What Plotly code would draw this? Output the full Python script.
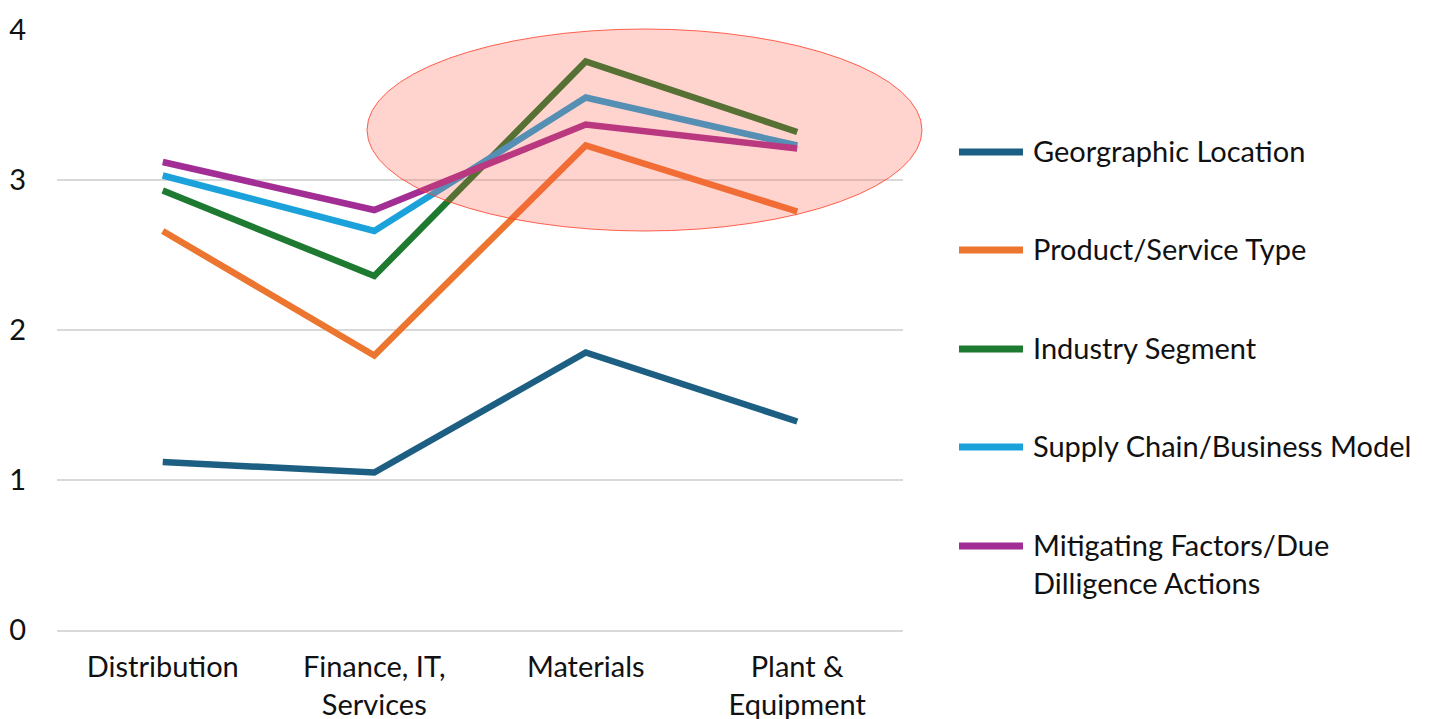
import plotly.graph_objects as go

categories = ["Distribution", "Finance, IT,<br>Services", "Materials", "Plant &<br>Equipment"]
series_names = ["Georgraphic Location", "Product/Service Type", "Industry Segment",
                "Supply Chain/Business Model", "Mitigating Factors/Due<br>Dilligence Actions"]
geographic = [1.12, 1.05, 1.85, 1.39]
product = [2.66, 1.83, 3.23, 2.79]
industry = [2.93, 2.36, 3.79, 3.32]
supply = [3.03, 2.66, 3.55, 3.23]
mitigating = [3.12, 2.80, 3.37, 3.21]
colors = ["#1C5F82", "#EC7530", "#1D7A30", "#1CA2DB", "#A22D94"]

FONT = "Lato"
FS = 29
W, H = 1430, 719
L, R, T, B = 57, 527, 30, 89
pw, ph = W - L - R, H - T - B

fig = go.Figure()
for name, vals, c in zip(series_names, [geographic, product, industry, supply, mitigating], colors):
    fig.add_trace(go.Scatter(x=categories, y=vals, mode="lines", name=name,
                             line=dict(color=c, width=6.5), showlegend=False))

def px(x):
    return (x - L) / pw

def py(y):
    return (H - B - y) / ph

# highlight ellipse
fig.add_shape(type="circle", xref="paper", yref="paper",
              x0=px(367), x1=px(922), y0=py(231), y1=py(29),
              fillcolor="rgba(255,90,70,0.26)", line=dict(color="rgba(255,60,40,0.8)", width=1),
              layer="above")

# manual legend
leg_y = [152, 250, 349, 447, 546]
for name, c, yy in zip(series_names, colors, leg_y):
    fig.add_shape(type="line", xref="paper", yref="paper",
                  x0=px(959), x1=px(1023), y0=py(yy), y1=py(yy),
                  line=dict(color=c, width=7))
    fig.add_annotation(xref="paper", yref="paper", x=px(1031), y=py(yy - 21),
                       text=name, showarrow=False, xanchor="left", yanchor="top",
                       align="left", font=dict(family=FONT, size=FS, color="#111"))

fig.update_layout(
    width=W, height=H,
    margin=dict(l=L, r=R, t=T, b=B),
    paper_bgcolor="white", plot_bgcolor="white",
    font=dict(family=FONT, size=FS, color="#111"),
    xaxis=dict(range=[-0.5, 3.5], showgrid=False, zeroline=False, showline=True,
               linecolor="#d9d9d9", linewidth=2, ticks="outside", ticklen=10,
               tickcolor="rgba(0,0,0,0)", automargin=False,
               tickfont=dict(family=FONT, size=FS, color="#111")),
    yaxis=dict(range=[0, 4], tickvals=[0, 1, 2, 3, 4], showgrid=True, gridcolor="#d9d9d9",
               gridwidth=2, zeroline=False, showline=False, ticks="outside", ticklen=24,
               tickcolor="rgba(0,0,0,0)", automargin=False,
               tickfont=dict(family=FONT, size=FS, color="#111")),
)

fig.write_html("out.html")
